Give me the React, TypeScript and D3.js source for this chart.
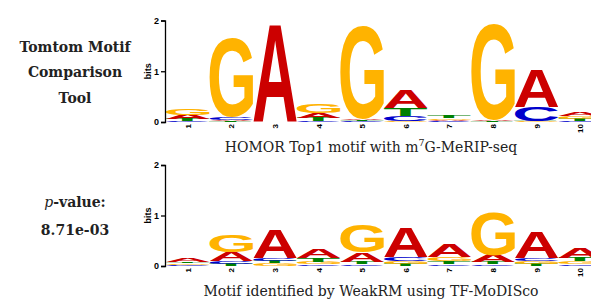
import * as d3 from "d3";
import React, { RefObject, useEffect, useRef } from "react";

const positions = ["1", "2", "3", "4", "5", "6", "7", "8", "9", "10"];
const bases = ["A", "C", "G", "T"];
const baseColors = ["#CC0000", "#0000CC", "#FFB300", "#008000"];
const yTicks = [0, 1, 2];

// bits per position, columns are A, C, G, T
const homorLogo = [
  [0.09, 0.01, 0.12, 0.04],
  [0.02, 0.06, 1.55, 0.01],
  [1.92, 0.0, 0.0, 0.0],
  [0.1, 0.01, 0.17, 0.07],
  [0.03, 0.01, 1.85, 0.02],
  [0.36, 0.1, 0.02, 0.16],
  [0.03, 0.01, 0.03, 0.04],
  [0.02, 0.0, 1.9, 0.01],
  [0.73, 0.28, 0.01, 0.01],
  [0.08, 0.02, 0.06, 0.04]
];
const weakrmLogo = [
  [0.08, 0.02, 0.03, 0.03],
  [0.18, 0.05, 0.33, 0.04],
  [0.56, 0.06, 0.05, 0.05],
  [0.17, 0.03, 0.05, 0.07],
  [0.18, 0.03, 0.54, 0.05],
  [0.6, 0.07, 0.06, 0.04],
  [0.26, 0.03, 0.08, 0.06],
  [0.14, 0.03, 0.85, 0.04],
  [0.5, 0.06, 0.05, 0.04],
  [0.2, 0.03, 0.06, 0.07]
];

const sans = "'Liberation Sans', Arial, sans-serif";
const serif = "'DejaVu Serif', serif";
const logoFont = `bold 100px ${sans}`;

const glyphBox = (ch: string) => {
  const ctx = document.createElement("canvas").getContext("2d")!;
  ctx.font = logoFont;
  const m = ctx.measureText(ch);
  return {
    left: -m.actualBoundingBoxLeft,
    right: m.actualBoundingBoxRight,
    top: -m.actualBoundingBoxAscent,
    bottom: m.actualBoundingBoxDescent
  };
};

const App = () => {
  const d3Ref: RefObject<HTMLDivElement> = useRef(null);

  useEffect(() => {
    d3.select(d3Ref.current).selectAll("*").remove();
    const svg = d3
      .select(d3Ref.current)
      .append("svg")
      .attr("width", 591)
      .attr("height", 300)
      .style("position", "absolute")
      .style("left", 0)
      .style("top", 0);

    const boxes: Record<string, ReturnType<typeof glyphBox>> = {};
    bases.forEach((b) => (boxes[b] = glyphBox(b)));

    const xScale = d3.scaleBand().domain(positions).range([166, 602]).padding(0);

    const drawLogo = (data: number[][], y0: number, y2: number, caption: (t: any) => void, capY: number) => {
      const yScale = d3.scaleLinear().domain([0, 2]).range([y0, y2]);
      const g = svg.append("g");

      data.forEach((col, i) => {
        const x = xScale(positions[i]) as number;
        const w = xScale.bandwidth();
        const order = d3.range(4).sort((a, b) => col[a] - col[b]);
        let acc = 0;
        order.forEach((k) => {
          const v = col[k];
          if (v <= 0) return;
          const top = yScale(acc + v);
          const bot = yScale(acc);
          acc += v;
          const bx = boxes[bases[k]];
          const sx = w / (bx.right - bx.left);
          const sy = (bot - top) / (bx.bottom - bx.top);
          g.append("text")
            .attr("transform", `translate(${x},${top}) scale(${sx},${sy}) translate(${-bx.left},${-bx.top})`)
            .attr("font-family", sans)
            .attr("font-weight", "bold")
            .attr("font-size", 100)
            .attr("fill", baseColors[k])
            .text(bases[k]);
        });
      });

      const axis = g
        .append("g")
        .attr("transform", "translate(165,0)")
        .call(d3.axisLeft(yScale).tickValues(yTicks).tickSize(4).tickPadding(2).tickFormat(d3.format("d")));
      axis.select(".domain").attr("stroke-width", 1.3);
      axis.selectAll(".tick line").attr("stroke-width", 1.3);
      axis
        .selectAll(".tick text")
        .attr("font-family", sans)
        .attr("font-weight", "bold")
        .attr("font-size", 9);

      g.append("text")
        .attr("transform", `translate(151,${(y0 + y2) / 2}) rotate(-90)`)
        .attr("text-anchor", "middle")
        .attr("font-family", sans)
        .attr("font-weight", "bold")
        .attr("font-size", 9)
        .text("bits");

      g.selectAll("text.pos")
        .data(positions)
        .enter()
        .append("text")
        .attr("class", "pos")
        .attr("transform", (d) => `translate(${(xScale(d) as number) + xScale.bandwidth() / 2 + 3},${y0 + 2}) rotate(-90)`)
        .attr("text-anchor", "end")
        .attr("font-family", sans)
        .attr("font-weight", "bold")
        .attr("font-size", 8)
        .text((d) => d);

      const cap = g
        .append("text")
        .attr("x", 371)
        .attr("y", capY)
        .attr("text-anchor", "middle")
        .attr("font-family", serif)
        .attr("font-size", 14)
        .attr("fill", "#222");
      caption(cap);
    };

    drawLogo(homorLogo, 122, 20.5, (t) => {
      t.append("tspan").text("HOMOR Top1 motif with m");
      t.append("tspan").attr("font-size", 9.5).attr("dy", -6).text("7");
      t.append("tspan").attr("dy", 6).text("G-MeRIP-seq");
    }, 152);
    drawLogo(weakrmLogo, 266, 165, (t) => {
      t.text("Motif identified by WeakRM using TF-MoDISco");
    }, 296);

    const side = svg
      .append("g")
      .attr("font-family", serif)
      .attr("font-weight", "bold")
      .attr("font-size", 14)
      .attr("text-anchor", "middle")
      .attr("fill", "#222");
    [["Tomtom Motif", 52], ["Comparison", 77], ["Tool", 103]].forEach(([s, y]) => {
      side.append("text").attr("x", 75).attr("y", y).text(s as string);
    });
    const pv = side.append("text").attr("x", 75).attr("y", 207);
    pv.append("tspan").attr("font-style", "italic").attr("font-weight", "normal").text("p");
    pv.append("tspan").text("-value:");
    side.append("text").attr("x", 75).attr("y", 235).text("8.71e-03");
  }, [d3Ref]);

  return <div ref={d3Ref} />;
};

export default App;
